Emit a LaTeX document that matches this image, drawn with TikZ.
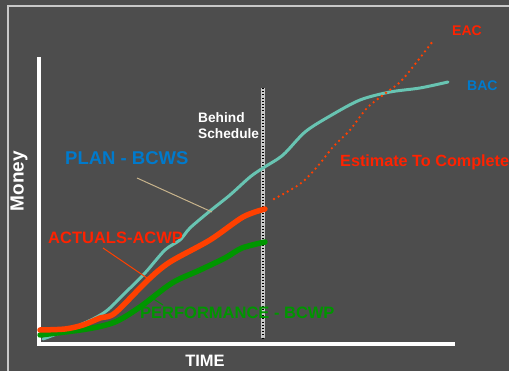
\documentclass[tikz,border=0pt]{standalone}
\usepackage{fontspec}
\setmainfont{Liberation Sans}
\definecolor{bg}{RGB}{77,77,77}
\definecolor{framec}{RGB}{200,200,200}
\definecolor{planc}{RGB}{104,196,178}
\definecolor{actc}{RGB}{255,64,0}
\definecolor{redtxt}{RGB}{255,34,0}
\definecolor{perfc}{RGB}{0,150,0}
\definecolor{bluetxt}{RGB}{0,122,204}
\definecolor{leadc}{RGB}{200,180,140}
\tikzset{
  lbl/.style={font=\bfseries, inner sep=0pt, anchor=west},
  curve/.style={line cap=round, line join=round},
}
\begin{document}
\begin{tikzpicture}[x=1pt,y=-1pt]
\useasboundingbox (0,0) rectangle (509,371);
\clip (0,0) rectangle (509,371);
\fill[bg] (0,0) rectangle (509,371);
\draw[framec, line width=1.5pt] (8,6) rectangle (530,400);
% axes
\coordinate (ytop) at (39,57);
\coordinate (orig) at (39,344);
\coordinate (xend) at (455,344);
\draw[white, line width=4pt] (ytop) -- (orig) -- (xend);
% behind schedule line
\coordinate (bs1) at (263,88);
\coordinate (bs2) at (263,338);
\draw[framec, line width=3.5pt] (bs1) -- (bs2);
\draw[black, line width=2.2pt, dash pattern=on 1pt off 2.2pt] (bs1) -- (bs2);
% plan curve
\draw[planc, line width=3pt, curve] plot[smooth, tension=0.5] coordinates {
 (43,339) (80,325) (105,312) (125,293) (145,273) (165,250) (180,240) (190,228) (210,211)
 (230,195) (250,177) (263,168) (283,155) (305,132) (330,116) (360,100) (390,92) (420,88) (448,82)};
% performance curve
\draw[perfc, line width=5.5pt, curve] plot[smooth, tension=0.5] coordinates {
 (40,335) (87,329) (115,322) (140,307) (172,283) (200,270) (225,258) (242,248) (265,242)};
% actual curve
\draw[actc, line width=5.5pt, curve] plot[smooth, tension=0.5] coordinates {
 (40,330) (65,329) (83,325) (100,318) (115,313) (148,280) (170,262) (210,240) (243,217) (265,209)};
% EAC dotted
\draw[actc, line width=2.6pt, line cap=round, dash pattern=on 0pt off 5.2pt] plot[smooth, tension=0.5] coordinates {
 (274,199) (300,184) (317,167) (333,147) (350,130) (367,108) (387,92) (403,79) (433,41)};
% texts
\node[lbl, white, font=\bfseries\fontsize{19}{19}\selectfont, rotate=90, anchor=center] (money) at (19,181) {Money};
\node[lbl, white, font=\bfseries\fontsize{16.5}{16.5}\selectfont, anchor=center] (time) at (205,361) {TIME};
\node[lbl, white, font=\bfseries\fontsize{13.7}{16}\selectfont, align=left, anchor=north west] (behind) at (198,112) {Behind\\Schedule};
\node[lbl, bluetxt, font=\bfseries\fontsize{18.5}{18.5}\selectfont] (plan) at (65,158) {PLAN - BCWS};
\node[lbl, redtxt, font=\bfseries\fontsize{16.5}{16.5}\selectfont] (act) at (48,238) {ACTUALS-ACWP};
\node[lbl, perfc, font=\bfseries\fontsize{16.5}{16.5}\selectfont] (perf) at (140,313) {PERFORMANCE - BCWP};
\node[lbl, redtxt, font=\bfseries\fontsize{16.2}{16.2}\selectfont] (etc) at (340,162) {Estimate To Complete};
\node[lbl, redtxt, font=\bfseries\fontsize{14}{14}\selectfont] (eac) at (452,31) {EAC};
\node[lbl, bluetxt, font=\bfseries\fontsize{14}{14}\selectfont] (bac) at (467,86) {BAC};
% leader lines
\coordinate (pl1) at (137,178); \coordinate (pl2) at (212,212);
\draw[leadc, line width=1pt] (pl1) -- (pl2);
\coordinate (al1) at (103,248); \coordinate (al2) at (150,280);
\draw[actc, line width=1pt] (al1) -- (al2);
\coordinate (gl1) at (152,298); \coordinate (gl2) at (163,305);
\draw[perfc, line width=1pt] (gl1) -- (gl2);
\end{tikzpicture}
\end{document}
